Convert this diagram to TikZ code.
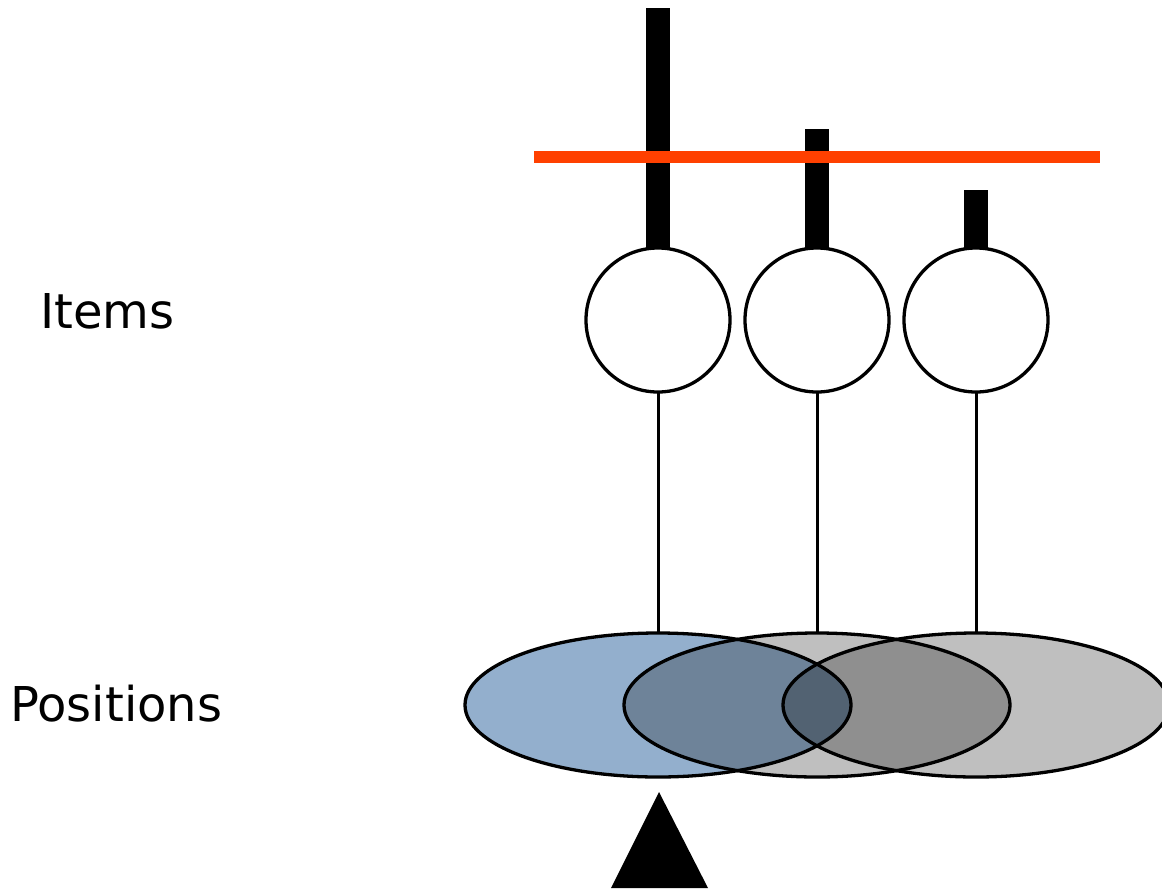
\documentclass[tikz,border=0pt]{standalone}
\usepackage{fontspec}
\setmainfont{DejaVu Sans}
\usetikzlibrary{shapes.geometric}
\definecolor{posblue}{HTML}{93AFCD}
\definecolor{redline}{HTML}{FF4000}
\tikzset{
  item/.style={circle, draw=black, fill=white, line width=3.3pt, minimum size=144pt, inner sep=0pt, outer sep=0pt},
  posfirst/.style={ellipse, draw=black, fill=posblue, line width=3.3pt, minimum width=386pt, minimum height=144pt, inner sep=0pt, outer sep=0pt},
  posother/.style={ellipse, draw=black, fill=black, fill opacity=0.25, line width=3.3pt, minimum width=386pt, minimum height=144pt, inner sep=0pt, outer sep=0pt},
  link/.style={line width=3pt, black},
  label/.style={font=\fontsize{48}{58}\selectfont, inner sep=0pt, anchor=base west},
}
\begin{document}
\begin{tikzpicture}[x=1pt, y=-1pt]
\useasboundingbox (0,0) rectangle (1162,889);
% positions
\node[posfirst] (e1) at (658,705) {};
\node[posother] (e2) at (817,705) {};
\node[posother] (e3) at (976,705) {};
% items
\node[item] (c1) at (658,320) {};
\node[item] (c2) at (817,320) {};
\node[item] (c3) at (976,320) {};
% links
\draw[link] (c1.south) -- (e1.north);
\draw[link] (c2.south) -- (e2.north);
\draw[link] (c3.south) -- (e3.north);
% bars
\fill[black] (c1.north) ++(-12,0) rectangle ++(24,-240);
\fill[black] (c2.north) ++(-12,0) rectangle ++(24,-119);
\fill[black] (c3.north) ++(-12,0) rectangle ++(24,-58);
% threshold line
\coordinate (t1) at (534,157);
\coordinate (t2) at (1100,157);
\draw[redline, line width=12pt] (t1) -- (t2);
% pointer triangle
\fill[black] (611,888) -- (708,888) -- (659,792) -- cycle;
% labels
\node[label] (items) at (40,328) {Items};
\node[label] (positions) at (10,721) {Positions};
\end{tikzpicture}
\end{document}
